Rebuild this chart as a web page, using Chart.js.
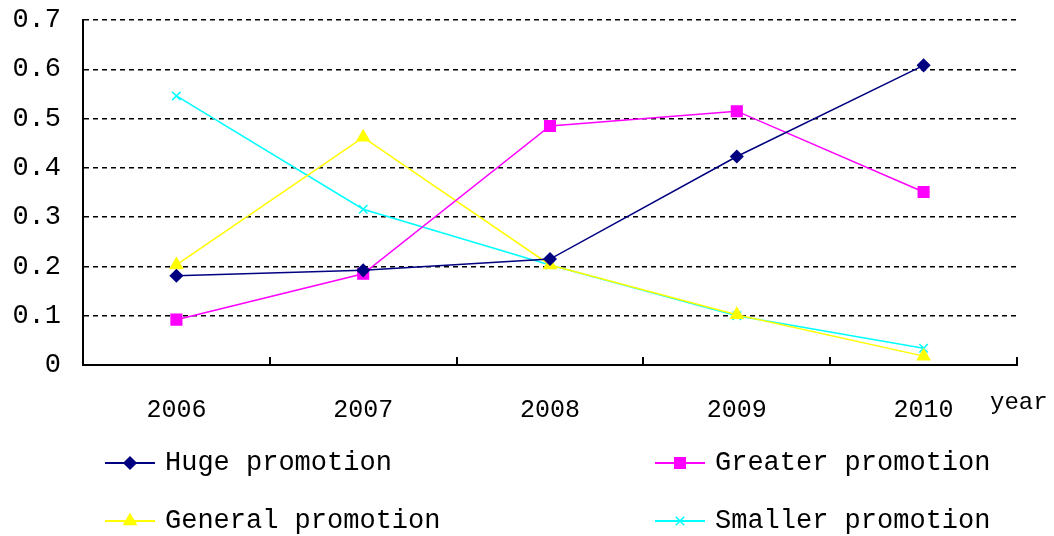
<!DOCTYPE html>
<html>
<head>
<meta charset="utf-8">
<script src="https://cdn.jsdelivr.net/npm/chart.js@4.4.1/dist/chart.umd.min.js"></script>
<style>
  html, body { margin: 0; padding: 0; background: #fff; }
</style>
</head>
<body>
<canvas id="mycanvas" width="1054" height="536"></canvas>
<script>
var years = ['2006', '2007', '2008', '2009', '2010'];
var huge = [0.181, 0.192, 0.215, 0.423, 0.608];
var greater = [0.092, 0.185, 0.485, 0.515, 0.351];
var general = [0.203, 0.462, 0.203, 0.102, 0.018];
var smaller = [0.546, 0.316, 0.203, 0.100, 0.034];
var yTicks = [0, 0.1, 0.2, 0.3, 0.4, 0.5, 0.6, 0.7];

var FONT = '"Liberation Mono", "DejaVu Sans Mono", monospace';

function series(label, data, color, style, radius) {
    return {
        label: label,
        data: data,
        borderColor: color,
        backgroundColor: color,
        borderWidth: 1.5,
        pointStyle: style,
        pointRadius: radius,
        pointBorderColor: color,
        pointBackgroundColor: color,
        pointBorderWidth: 1.5,
        tension: 0
    };
}

// tick marks between categories (inside), "year" label and the 2x2 legend
var extras = {
    id: 'extras',
    afterDraw: function(chart) {
        var ctx = chart.ctx;
        var x = chart.scales.x;
        var area = chart.chartArea;
        ctx.save();
        ctx.strokeStyle = '#000';
        ctx.lineWidth = 2;
        for (var i = 0; i < years.length; i++) {
            var px = i < years.length - 1
                ? (x.getPixelForValue(i) + x.getPixelForValue(i + 1)) / 2
                : area.right;
            ctx.beginPath();
            ctx.moveTo(Math.round(px), area.bottom);
            ctx.lineTo(Math.round(px), area.bottom - 8);
            ctx.stroke();
        }
        ctx.fillStyle = '#000';
        ctx.font = '24px ' + FONT;
        ctx.textBaseline = 'middle';
        ctx.textAlign = 'left';
        ctx.fillText('year', 990, 403);

        var cols = [105, 655];
        var rows = [463, 521];
        chart.data.datasets.forEach(function(ds, k) {
            var lx = cols[k % 2], ly = rows[Math.floor(k / 2)];
            ctx.strokeStyle = ds.borderColor;
            ctx.fillStyle = ds.pointBackgroundColor;
            ctx.lineWidth = 2;
            ctx.beginPath();
            ctx.moveTo(lx, ly);
            ctx.lineTo(lx + 50, ly);
            ctx.stroke();
            ctx.lineWidth = 1.5;
            Chart.helpers.drawPoint(ctx, {
                pointStyle: ds.pointStyle,
                radius: ds.pointRadius,
                borderWidth: 1.5
            }, lx + 25, ly);
            ctx.fillStyle = '#000';
            ctx.font = '27px ' + FONT;
            ctx.fillText(ds.label, lx + 60, ly);
        });
        ctx.restore();
    }
};

var ctx = document.getElementById('mycanvas');
var lineChart = new Chart(ctx, {
    type: 'line',
    data: {
        labels: years,
        datasets: [
            series('Huge promotion', huge, '#000080', 'rectRot', 6),
            series('Greater promotion', greater, '#FF00FF', 'rect', 7.5),
            series('General promotion', general, '#FFFF00', 'triangle', 7),
            series('Smaller promotion', smaller, '#00FFFF', 'crossRot', 6)
        ]
    },
    options: {
        responsive: false,
        animation: false,
        layout: { padding: { left: 0, right: 37, top: 20, bottom: 0 } },
        plugins: {
            legend: { display: false },
            tooltip: { enabled: false }
        },
        scales: {
            x: {
                offset: true,
                grid: { display: false, drawTicks: false },
                border: { display: true, color: '#000', width: 2 },
                ticks: {
                    color: '#000',
                    padding: 30,
                    font: { family: FONT, size: 25 },
                    maxRotation: 0
                },
                afterFit: function(scale) { scale.height = 171; }
            },
            y: {
                min: 0,
                max: 0.7,
                afterBuildTicks: function(scale) {
                    scale.ticks = yTicks.map(function(v) { return { value: v }; });
                },
                grid: { color: '#000', lineWidth: 1.5, drawTicks: false },
                border: { display: true, color: '#000', width: 2, dash: [5, 4] },
                ticks: {
                    color: '#000',
                    padding: 22,
                    font: { family: FONT, size: 27 },
                    callback: function(v) { return v === 0 ? '0' : v.toFixed(1); }
                },
                afterFit: function(scale) {
                    scale.width = 83;
                    scale.paddingTop = 0;
                    scale.paddingBottom = 0;
                }
            }
        }
    },
    plugins: [extras]
});
</script>
</body>
</html>
